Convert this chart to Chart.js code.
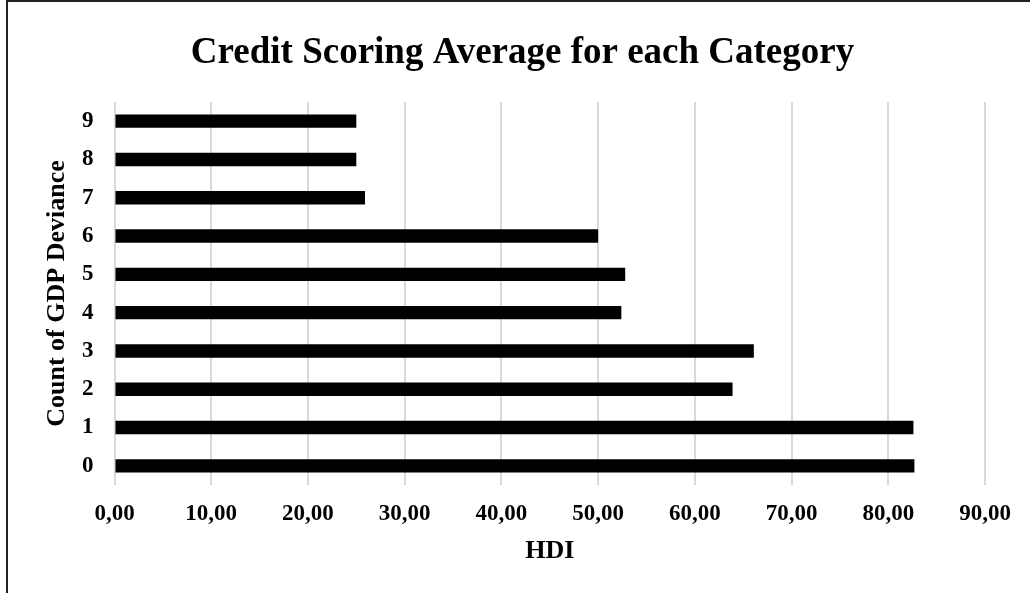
<!DOCTYPE html>
<html>
<head>
<meta charset="utf-8">
<title>Credit Scoring Average for each Category</title>
<script src="https://cdn.jsdelivr.net/npm/chart.js@4/dist/chart.umd.min.js"></script>
<style>
  html, body { margin: 0; padding: 0; background: #ffffff; }
  #wrap { position: relative; width: 1030px; height: 593px; }
  canvas { display: block; }
</style>
</head>
<body>
<div id="wrap"><canvas id="chart" width="1030" height="593"></canvas></div>
<script>
// Categories (count of GDP deviance) and the average score in each
const categories = ['0', '1', '2', '3', '4', '5', '6', '7', '8', '9'];
const hdiAverage = [82.7, 82.6, 63.9, 66.1, 52.4, 52.8, 50.0, 25.9, 25.0, 25.0];

// Value axis ticks
const hdiTicks = [0, 10, 20, 30, 40, 50, 60, 70, 80, 90];

const SERIF = '"Liberation Serif", "Times New Roman", serif';

// Frame lines along the left and top edges of the canvas
const framePlugin = {
  id: 'frame',
  afterDraw(chart) {
    const ctx = chart.ctx;
    ctx.save();
    ctx.strokeStyle = '#222222';
    ctx.lineWidth = 2;
    ctx.beginPath();
    ctx.moveTo(7, 0);
    ctx.lineTo(7, chart.height);
    ctx.moveTo(6, 1);
    ctx.lineTo(chart.width, 1);
    ctx.stroke();
    ctx.restore();
  }
};

const whiteBg = {
  id: 'whiteBg',
  beforeDraw(chart) {
    const ctx = chart.ctx;
    ctx.save();
    ctx.fillStyle = '#ffffff';
    ctx.fillRect(0, 0, chart.width, chart.height);
    ctx.restore();
  }
};

new Chart(document.getElementById('chart'), {
  type: 'bar',
  data: {
    labels: categories,
    datasets: [{
      label: 'HDI',
      data: hdiAverage,
      backgroundColor: '#000000',
      borderWidth: 0,
      categoryPercentage: 1.0,
      barPercentage: 0.35
    }]
  },
  options: {
    indexAxis: 'y',
    responsive: false,
    animation: false,
    devicePixelRatio: 1,
    layout: { padding: { left: 15, right: 0, top: 0, bottom: 0 } },
    plugins: {
      legend: { display: false },
      tooltip: { enabled: false },
      title: {
        display: true,
        text: 'Credit Scoring Average for each Category',
        color: '#000000',
        font: { family: SERIF, size: 37, weight: 'bold' },
        padding: { top: 31, bottom: 26.6 }
      }
    },
    scales: {
      x: {
        type: 'linear',
        min: 0,
        max: 90,
        afterBuildTicks(scale) {
          scale.ticks = hdiTicks.map(v => ({ value: v }));
        },
        afterFit(scale) { scale.height = 108; },
        grid: { color: '#d9d9d9', lineWidth: 2, drawTicks: false },
        border: { display: false },
        ticks: {
          color: '#000000',
          padding: 15,
          maxRotation: 0,
          font: { family: SERIF, size: 23, weight: 'bold' },
          callback: v => Number(v).toFixed(2).replace('.', ',')
        },
        title: {
          display: true,
          text: 'HDI',
          color: '#000000',
          font: { family: SERIF, size: 26, weight: 'bold' },
          padding: { top: 0, bottom: 26.4 }
        }
      },
      y: {
        type: 'category',
        reverse: true,
        afterFit(scale) { scale.width = 99.5; },
        grid: { display: false, drawTicks: false },
        border: { display: false },
        ticks: {
          color: '#000000',
          padding: 21,
          font: { family: SERIF, size: 23, weight: 'bold' }
        },
        title: {
          display: true,
          text: 'Count of GDP Deviance',
          color: '#000000',
          font: { family: SERIF, size: 26, weight: 'bold' },
          padding: { top: 27, bottom: 0 }
        }
      },
      // empty right-hand margin axis
      yRight: {
        type: 'category',
        position: 'right',
        afterFit(scale) { scale.width = 45; },
        grid: { display: false, drawTicks: false },
        border: { display: false },
        ticks: { display: false }
      }
    }
  },
  plugins: [whiteBg, framePlugin]
});
</script>
</body>
</html>
